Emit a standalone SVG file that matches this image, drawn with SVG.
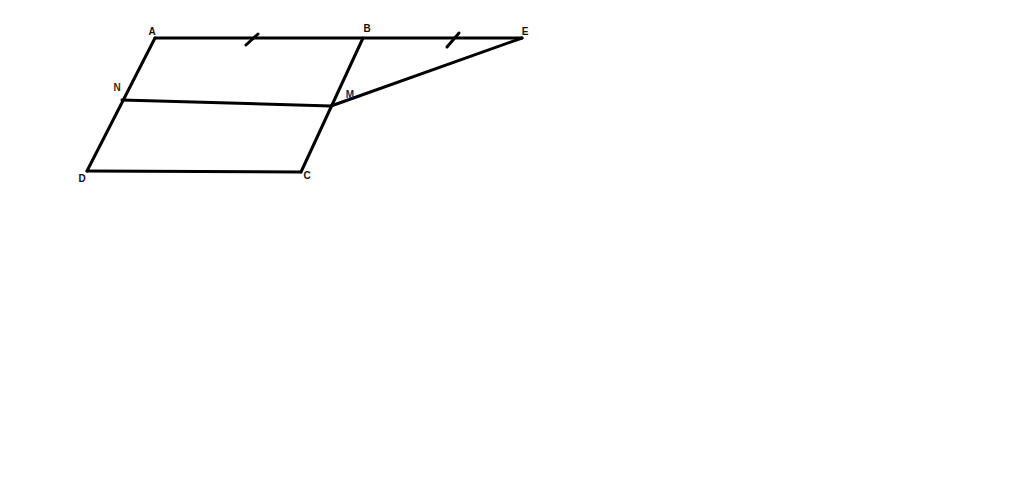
<svg xmlns="http://www.w3.org/2000/svg" width="1024" height="493" viewBox="0 0 1024 493">
<style>
.l{stroke:#000;stroke-width:3;fill:none;stroke-linecap:round;stroke-linejoin:round}
.t{font-family:"Liberation Sans",Arial,sans-serif;font-size:10px;font-weight:bold;fill:#111;text-anchor:middle}
</style>
<rect width="1024" height="493" fill="#fff"/>
<g id="connectors">
<path class="l" d="M155,38 L522,38"/>
<path class="l" d="M155,38 L87,171"/>
<path class="l" d="M363,38 L301,172"/>
<path class="l" d="M87,171 L301,172"/>
<path class="l" d="M122,100 L331,106"/>
<path class="l" d="M331,106 L522,38"/>
<path class="l" d="M246,45 L258,34"/>
<path class="l" d="M447,47 L459,33"/>
</g>
<g id="A"><text class="t" x="152" y="35">A</text></g>
<g id="B"><text class="t" x="367" y="32">B</text></g>
<g id="E"><text class="t" x="525" y="35">E</text></g>
<g id="N"><text class="t" x="117" y="91" style="fill:#3a2a10">N</text></g>
<g id="M"><text class="t" x="350" y="98" style="fill:#1a2a4a">M</text></g>
<g id="D"><text class="t" x="82" y="182">D</text></g>
<g id="C"><text class="t" x="307" y="179">C</text></g>
</svg>
